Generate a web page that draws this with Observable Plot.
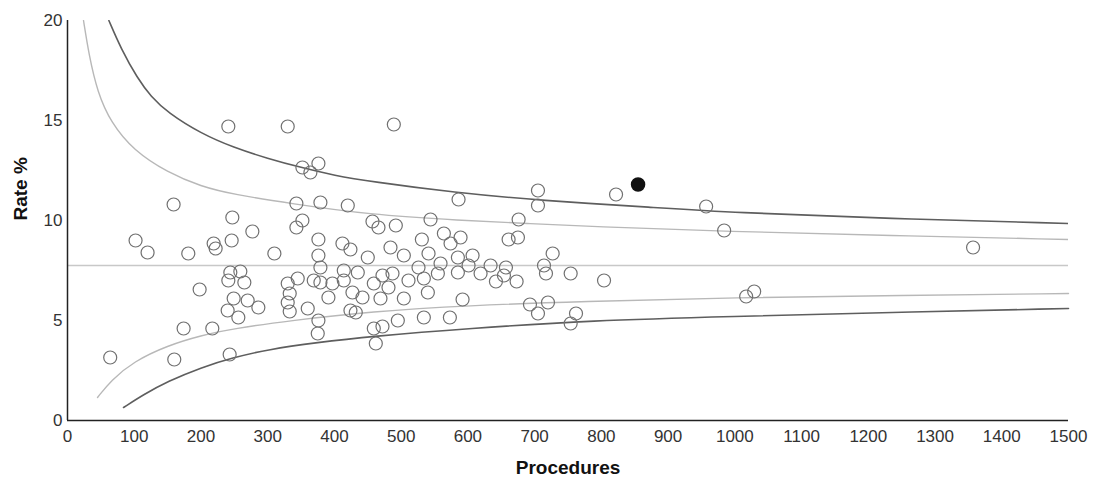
<!DOCTYPE html>
<html>
<head>
<meta charset="utf-8">
<script src="https://cdn.jsdelivr.net/npm/d3@7"></script>
<script src="https://cdn.jsdelivr.net/npm/@observablehq/plot@0.6"></script>
<style>
  html, body { margin: 0; padding: 0; background: #fff; }
  #chart { width: 1097px; height: 481px; }
</style>
</head>
<body>
<div id="chart"></div>
<script>
// Hospital points: procedures (x) and rate % (y)
const procedures = [64,102,120,159,160,174,181,198,217,219,222,243,241,246,247,277,310,244,259,241,265,249,270,286,240,256,
  330,330,345,333,330,333,343,352,343,352,376,364,360,376,379,369,379,397,391,376,375,379,420,376,412,424,450,414,435,414,
  427,442,424,432,459,472,481,469,487,495,459,472,462,504,457,466,492,484,489,586,705,705,544,676,564,589,574,531,661,675,
  541,585,607,727,504,526,559,511,534,555,585,601,634,657,654,642,673,619,714,717,754,540,592,534,573,693,705,720,762,754,
  822,957,984,804,1017,1029,1357];
const rates = [3.15,9.0,8.4,10.8,3.05,4.6,8.35,6.55,4.6,8.85,8.6,3.3,14.7,9.0,10.15,9.45,8.35,7.4,7.45,7.0,6.9,6.1,6.0,5.65,5.5,5.15,
  14.7,6.85,7.1,6.35,5.9,5.45,10.85,10.0,9.65,12.65,12.85,12.4,5.6,8.25,7.65,7.0,6.9,6.85,6.15,5.0,4.35,10.9,10.75,9.05,8.85,8.55,8.15,7.5,7.4,7.0,
  6.4,6.15,5.5,5.4,6.85,7.25,6.65,6.1,7.35,5.0,4.6,4.7,3.85,6.1,9.95,9.65,9.75,8.65,14.8,11.05,11.5,10.75,10.05,10.05,9.35,9.15,8.85,9.05,9.05,9.15,
  8.35,8.15,8.25,8.35,8.25,7.65,7.85,7.0,7.1,7.35,7.4,7.75,7.75,7.65,7.25,6.95,6.95,7.35,7.75,7.35,7.35,6.4,6.05,5.15,5.15,5.8,5.35,5.9,5.35,4.85,
  11.3,10.7,9.5,7.0,6.2,6.45,8.65];
// Outlier (filled)
const outlierProcedures = [855];
const outlierRates = [11.8];

// Mean rate
const meanRate = 7.75;

// Control limits
const upperOuterN = [62,80,105,125,150,200,249,300,350,400,455,579,710,879,995,1230,1500];
const upperOuterRate = [20,18.6,17.1,16.2,15.4,14.35,13.65,13.1,12.65,12.25,11.95,11.4,11.0,10.65,10.4,10.1,9.85];
const upperInnerN = [24,32,45,65,99,150,200,249,335,450,590,690,785,990,1230,1500];
const upperInnerRate = [20,18.3,16.4,14.9,13.5,12.4,11.7,11.3,10.85,10.3,10.0,9.85,9.7,9.45,9.25,9.05];
const lowerInnerN = [45,65,99,150,200,249,335,455,600,770,1000,1250,1500];
const lowerInnerRate = [1.15,2.0,2.95,3.75,4.25,4.6,5.0,5.45,5.75,5.95,6.15,6.25,6.35];
const lowerOuterN = [84,114,150,200,249,300,374,454,600,785,995,1230,1500];
const lowerOuterRate = [0.65,1.3,1.95,2.65,3.15,3.55,3.9,4.2,4.6,5.0,5.2,5.4,5.6];

const xTicks = d3.range(0, 1501, 100);
const yTicks = [0, 5, 10, 15, 20];

const pts = procedures.map((n, i) => ({n, r: rates[i]}));
const outl = outlierProcedures.map((n, i) => ({n, r: outlierRates[i]}));
const mk = (ns, rs) => ns.map((n, i) => ({n, r: rs[i]}));

const chart = Plot.plot({
  width: 1097,
  height: 481,
  marginLeft: 67,
  marginRight: 29,
  marginTop: 20,
  marginBottom: 61,
  style: {fontFamily: "'Liberation Sans', Arial, sans-serif", fontSize: "17px", color: "#333", background: "white"},
  x: {domain: [0, 1500]},
  y: {domain: [0, 20]},
  marks: [
    Plot.axisX(xTicks, {tickSize: 0, tickPadding: 9, label: null, fontSize: 17, tickFormat: d => String(d)}),
    Plot.axisY(yTicks, {tickSize: 0, tickPadding: 5, label: null, fontSize: 17, tickFormat: d => String(d)}),
    Plot.ruleY([meanRate], {stroke: "#c8c8c8", strokeWidth: 1.4}),
    Plot.line(mk(upperInnerN, upperInnerRate), {x: "n", y: "r", curve: "basis", stroke: "#b8b8b8", strokeWidth: 1.4, clip: true}),
    Plot.line(mk(lowerInnerN, lowerInnerRate), {x: "n", y: "r", curve: "basis", stroke: "#b8b8b8", strokeWidth: 1.4}),
    Plot.line(mk(upperOuterN, upperOuterRate), {x: "n", y: "r", curve: "basis", stroke: "#5e5e5e", strokeWidth: 1.6, clip: true}),
    Plot.line(mk(lowerOuterN, lowerOuterRate), {x: "n", y: "r", curve: "basis", stroke: "#5e5e5e", strokeWidth: 1.6}),
    Plot.dot(pts, {x: "n", y: "r", r: 6.5, stroke: "#707070", strokeWidth: 1.2, fill: "none"}),
    Plot.dot(outl, {x: "n", y: "r", r: 6.5, stroke: "#111", fill: "#111"}),
    Plot.ruleX([0], {stroke: "#222", strokeWidth: 1.5}),
    Plot.ruleY([0], {stroke: "#222", strokeWidth: 1.5}),
    Plot.text(["Procedures"], {text: d => d, frameAnchor: "bottom", dy: 53, fontWeight: "bold", fontSize: 19, fill: "#111"}),
    Plot.text(["Rate %"], {text: d => d, frameAnchor: "left", dx: -47, rotate: -90, fontWeight: "bold", fontSize: 19, fill: "#111"})
  ]
});
document.getElementById("chart").appendChild(chart);
</script>
</body>
</html>
